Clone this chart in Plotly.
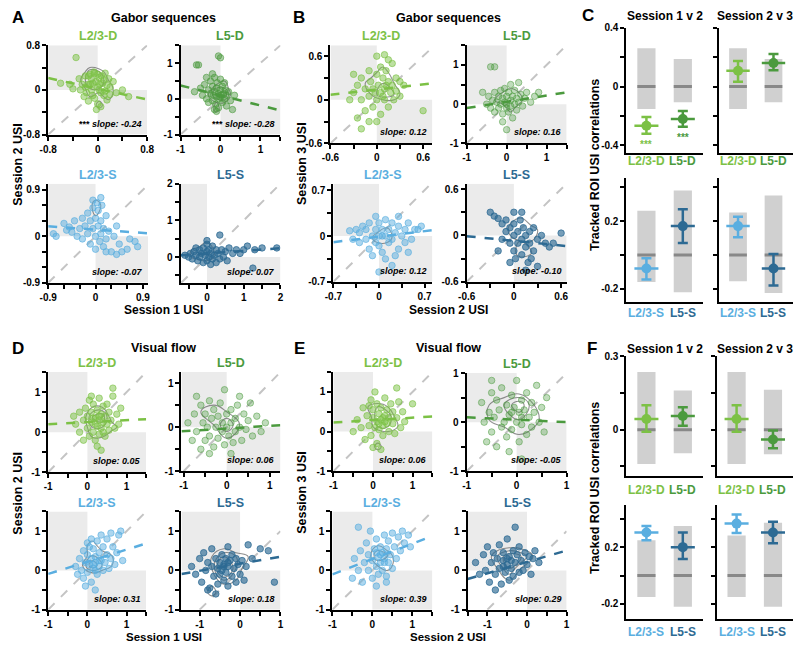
import plotly.graph_objects as go

W, H = 800, 650
FONT = "Liberation Sans"
GREEN_L = "#7cc145"
GREEN_D = "#4b9a3e"
BLUE_L = "#5aaee0"
BLUE_D = "#2d6a93"

# ---------------- scatter data: (USI session a, USI session b) ----------------
GAB_S12_L23D = [(-0.35,0.58),(-0.6,0.12),(-0.45,0.1),(-0.4,0.02),(-0.3,0.2),(-0.28,0.0),(-0.25,0.1),(-0.22,-0.12),(-0.2,0.25),(-0.2,0.05),(-0.18,-0.05),(-0.15,0.25),(-0.15,-0.2),(-0.12,0.1),(-0.12,0.28),(-0.1,0.2),(-0.1,0.0),(-0.08,-0.1),(-0.06,0.32),(-0.05,0.3),(-0.05,-0.15),(-0.03,0.15),(-0.02,-0.35),(0.0,0.05),(0.0,0.28),(0.0,-0.25),(0.02,0.22),(0.03,0.1),(0.05,-0.05),(0.05,-0.3),(0.06,0.25),(0.08,0.12),(0.1,0.18),(0.1,-0.1),(0.12,-0.02),(0.12,0.3),(0.15,0.08),(0.15,-0.18),(0.18,0.2),(0.2,0.05),(0.2,-0.08),(0.25,0.15),(0.3,-0.05),(0.4,0.0),(0.5,-0.12),(-0.08,0.12),(0.02,0.0),(-0.15,0.1)]
GAB_S12_L5D = [(-0.6,0.95),(-0.55,0.95),(-0.05,1.2),(0.0,1.15),(-0.65,0.2),(-0.5,0.3),(-0.45,0.1),(-0.4,0.4),(-0.35,0.0),(-0.3,0.25),(-0.3,-0.1),(-0.25,0.5),(-0.25,0.15),(-0.2,0.35),(-0.2,-0.05),(-0.18,0.1),(-0.15,0.6),(-0.15,0.2),(-0.12,-0.15),(-0.1,0.05),(-0.1,0.3),(-0.08,0.45),(-0.05,0.15),(-0.05,-0.25),(-0.03,0.0),(0.0,0.25),(0.0,0.55),(0.02,0.1),(0.05,-0.1),(0.05,0.35),(0.08,0.15),(0.1,0.0),(0.12,0.25),(0.15,-0.2),(0.15,0.1),(0.2,0.2),(0.25,-0.05),(0.3,-0.3),(-0.2,0.7),(-0.1,-0.35),(0.35,0.1),(-0.35,0.6),(0.1,0.45),(-0.15,-0.3),(0.0,0.05)]
GAB_S12_L23S = [(-0.8,0.05),(-0.75,0.0),(-0.6,0.25),(-0.55,0.12),(-0.5,0.18),(-0.45,0.08),(-0.4,0.3),(-0.35,0.0),(-0.3,0.15),(-0.25,0.35),(-0.25,-0.05),(-0.2,0.2),(-0.15,0.45),(-0.15,0.05),(-0.1,0.3),(-0.1,-0.15),(-0.05,0.55),(-0.05,0.15),(0.0,0.35),(0.0,0.0),(0.0,-0.25),(0.03,0.65),(0.05,0.2),(0.05,0.5),(0.08,-0.1),(0.1,0.3),(0.1,0.05),(0.12,0.6),(0.15,-0.2),(0.15,0.15),(0.2,0.4),(0.2,-0.05),(0.25,0.1),(0.3,-0.3),(0.35,0.0),(0.4,0.2),(0.45,-0.15),(0.5,-0.3),(0.6,-0.25),(0.65,-0.05),(0.75,-0.1),(0.8,-0.2),(0.4,-0.35),(0.2,-0.3),(-0.05,0.7),(0.1,0.75)]
GAB_S12_L5S = [(-0.6,0.05),(-0.5,0.0),(-0.45,0.1),(-0.4,-0.05),(-0.35,0.15),(-0.3,0.05),(-0.25,-0.1),(-0.2,0.2),(-0.2,0.0),(-0.15,0.1),(-0.1,-0.15),(-0.1,0.25),(-0.05,0.05),(0.0,0.15),(0.0,-0.1),(0.0,0.35),(0.05,0.0),(0.05,0.2),(0.1,-0.2),(0.1,0.1),(0.15,0.3),(0.15,-0.05),(0.2,0.05),(0.25,0.2),(0.25,-0.15),(0.3,0.1),(0.35,0.6),(0.35,-0.05),(0.4,0.2),(0.45,0.0),(0.5,0.15),(0.55,-0.1),(0.6,0.25),(0.7,0.1),(0.8,0.2),(0.9,0.1),(1.0,0.2),(1.1,0.3),(1.3,0.2),(1.25,-0.3),(1.5,0.25),(1.9,0.25),(0.0,0.45),(-0.3,0.25)]

GAB_S23_L23D = [(-0.3,0.35),(-0.3,0.1),(-0.25,0.2),(-0.2,-0.4),(-0.2,0.3),(-0.2,0.0),(-0.15,0.15),(-0.15,-0.15),(-0.1,0.4),(-0.1,0.05),(-0.08,0.25),(-0.05,-0.1),(-0.05,0.15),(0.0,0.35),(0.0,0.0),(0.0,0.6),(0.02,0.2),(0.05,0.45),(0.05,0.1),(0.05,-0.2),(0.08,0.3),(0.1,0.62),(0.1,0.0),(0.1,0.15),(0.12,0.4),(0.15,0.25),(0.15,-0.1),(0.18,0.1),(0.2,0.5),(0.2,0.2),(0.22,0.0),(0.25,0.3),(0.25,0.12),(0.3,0.05),(0.3,0.25),(-0.35,0.0),(-0.25,-0.25),(0.6,-0.15),(0.35,0.2),(0.0,-0.3),(0.15,0.55),(-0.1,-0.3),(0.08,0.05),(-0.02,0.1),(0.12,0.2)]
GAB_S23_L5D = [(-0.4,0.95),(-0.3,0.95),(0.0,-0.65),(-0.5,0.0),(-0.45,0.2),(-0.4,-0.1),(-0.35,0.1),(-0.3,0.3),(-0.3,-0.2),(-0.25,0.05),(-0.2,0.2),(-0.2,-0.1),(-0.15,0.35),(-0.15,0.0),(-0.1,0.15),(-0.1,-0.25),(-0.05,0.05),(-0.05,0.4),(0.0,0.2),(0.0,-0.1),(0.0,0.0),(0.05,0.3),(0.05,-0.2),(0.1,0.1),(0.1,0.5),(0.1,-0.05),(0.15,0.2),(0.2,0.0),(0.2,0.35),(0.25,-0.15),(0.25,0.15),(0.3,0.05),(0.35,0.25),(0.4,-0.05),(0.45,0.15),(0.5,0.3),(0.6,0.05),(0.7,0.2),(0.8,0.3),(-0.1,-0.45),(0.15,-0.35),(-0.6,0.3),(0.3,0.55)]
GAB_S23_L23S = [(-0.45,0.08),(-0.4,-0.05),(-0.35,0.1),(-0.3,-0.1),(-0.3,0.05),(-0.25,0.15),(-0.2,-0.05),(-0.2,0.1),(-0.15,-0.2),(-0.15,0.2),(-0.1,0.0),(-0.1,-0.3),(-0.05,0.1),(-0.05,-0.1),(0.0,0.2),(0.0,-0.15),(0.0,0.0),(0.0,-0.55),(0.05,0.1),(0.05,-0.25),(0.1,0.0),(0.1,0.25),(0.15,-0.1),(0.15,0.1),(0.2,-0.45),(0.2,0.2),(0.2,-0.05),(0.25,0.05),(0.3,-0.2),(0.3,0.15),(0.35,0.0),(0.4,-0.1),(0.4,0.1),(0.45,0.2),(0.5,-0.05),(0.55,0.1),(0.6,0.1),(0.65,0.15),(0.3,0.3),(0.45,-0.25),(-0.05,0.3),(0.25,-0.3),(0.1,-0.35),(0.05,0.0)]
GAB_S23_L5S = [(-0.3,0.3),(-0.25,0.25),(-0.2,0.22),(-0.15,0.15),(-0.1,0.2),(-0.15,-0.05),(-0.1,0.05),(-0.05,-0.1),(-0.05,0.1),(0.0,0.0),(0.0,-0.2),(0.0,0.15),(0.02,-0.3),(0.05,0.05),(0.05,-0.1),(0.08,0.2),(0.1,-0.05),(0.1,-0.25),(0.12,0.1),(0.15,-0.15),(0.15,0.0),(0.18,-0.35),(0.2,0.05),(0.2,-0.1),(0.22,-0.3),(0.25,0.1),(0.25,-0.2),(0.3,-0.05),(0.3,-0.4),(0.35,0.0),(0.4,-0.1),(0.45,-0.15),(0.5,-0.1),(0.6,0.03),(0.0,0.3),(-0.05,-0.35),(0.1,0.3),(0.15,-0.45),(-0.2,-0.2)]

VF_S12_L23D = [(-0.3,0.2),(-0.2,0.0),(-0.2,0.5),(-0.1,-0.2),(-0.1,0.3),(-0.05,0.6),(0.0,0.1),(0.0,0.4),(0.05,-0.1),(0.05,0.8),(0.1,0.25),(0.1,0.5),(0.15,0.0),(0.15,0.7),(0.2,0.35),(0.2,-0.2),(0.25,0.15),(0.25,0.55),(0.3,0.3),(0.3,0.85),(0.3,-0.05),(0.35,0.45),(0.35,0.1),(0.4,0.25),(0.4,0.65),(0.45,-0.1),(0.45,0.4),(0.5,0.2),(0.5,0.7),(0.55,0.05),(0.55,0.5),(0.6,0.3),(0.65,0.9),(0.65,1.1),(0.7,0.1),(0.75,0.45),(0.8,0.2),(0.85,0.6),(0.25,-0.35),(0.35,-0.45),(0.1,0.9),(-0.35,0.4),(0.2,0.2),(0.3,0.4),(0.4,0.0),(0.15,0.35)]
VF_S12_L5D = [(-0.9,0.1),(-0.8,-0.3),(-0.75,0.3),(-0.7,-0.1),(-0.6,0.5),(-0.6,-0.5),(-0.55,0.1),(-0.5,-0.3),(-0.5,0.3),(-0.45,0.0),(-0.4,0.6),(-0.4,-0.2),(-0.35,0.2),(-0.3,-0.45),(-0.3,0.4),(-0.25,0.0),(-0.2,-0.25),(-0.2,0.25),(-0.15,0.55),(-0.1,-0.1),(-0.1,0.1),(-0.05,-0.4),(0.0,0.3),(0.0,0.0),(0.05,-0.2),(0.1,0.4),(0.1,0.1),(0.15,-0.35),(0.2,0.2),(0.2,-0.1),(0.25,0.5),(0.3,0.0),(0.35,-0.3),(0.4,0.3),(0.45,-0.05),(0.5,0.15),(0.6,-0.2),(0.7,0.25),(0.8,-0.1),(0.9,0.1),(-0.05,0.85),(0.3,0.7),(-0.4,-0.6),(0.1,-0.6),(-0.7,0.7),(0.55,0.55)]
VF_S12_L23S = [(-0.3,0.1),(-0.25,-0.1),(-0.2,0.3),(-0.15,0.0),(-0.1,0.5),(-0.1,-0.2),(-0.05,0.2),(0.0,0.4),(0.0,-0.05),(0.0,0.7),(0.05,0.15),(0.1,0.3),(0.1,-0.3),(0.1,0.8),(0.15,0.05),(0.15,0.55),(0.2,0.2),(0.2,0.35),(0.25,-0.1),(0.25,0.75),(0.3,0.1),(0.3,0.45),(0.35,0.25),(0.35,0.9),(0.4,0.0),(0.4,0.6),(0.45,0.2),(0.5,0.4),(0.5,0.8),(0.55,0.05),(0.6,0.3),(0.6,0.95),(0.65,0.6),(0.7,0.15),(0.75,0.45),(0.8,0.9),(0.85,1.0),(0.9,0.25),(0.2,-0.5),(-0.05,-0.4),(0.05,0.6),(0.3,0.25),(0.15,0.15),(0.2,0.0)]
VF_S12_L5S = [(-1.2,0.1),(-1.1,-0.1),(-1.0,0.3),(-0.95,-0.3),(-0.9,0.45),(-0.85,0.0),(-0.8,0.2),(-0.75,-0.45),(-0.7,0.55),(-0.7,0.1),(-0.65,-0.15),(-0.6,0.3),(-0.55,-0.35),(-0.55,0.05),(-0.5,0.2),(-0.5,-0.1),(-0.45,0.4),(-0.45,0.0),(-0.4,-0.25),(-0.4,0.15),(-0.35,0.3),(-0.35,-0.05),(-0.3,0.1),(-0.3,-0.4),(-0.25,0.25),(-0.2,-0.15),(-0.2,0.4),(-0.15,0.05),(-0.1,0.3),(-0.1,-0.3),(-0.05,0.15),(0.0,-0.1),(0.05,0.25),(0.1,-0.25),(0.15,0.1),(0.2,0.65),(0.3,0.3),(0.5,0.55),(0.7,0.5),(0.85,-0.3),(-0.6,-0.6),(-0.3,0.6),(-0.8,-0.5),(-0.4,0.1),(-0.3,0.2)]

VF_S23_L23D = [(-0.5,0.0),(-0.4,0.3),(-0.3,0.1),(-0.25,0.6),(-0.2,-0.2),(-0.15,0.4),(-0.1,0.15),(-0.05,0.8),(-0.05,-0.1),(0.0,0.35),(0.0,0.55),(0.05,0.1),(0.05,1.0),(0.1,0.25),(0.1,-0.3),(0.1,0.7),(0.15,0.45),(0.15,0.05),(0.2,0.3),(0.2,0.6),(0.25,0.15),(0.25,-0.1),(0.3,0.4),(0.3,0.85),(0.35,0.2),(0.35,0.55),(0.4,0.0),(0.4,0.35),(0.45,0.7),(0.5,0.2),(0.5,0.5),(0.55,-0.05),(0.6,0.35),(0.6,1.1),(0.65,0.75),(0.7,0.1),(0.75,0.5),(0.8,0.25),(1.0,0.7),(0.2,-0.45),(0.0,-0.4),(-0.1,0.65),(0.25,0.35),(0.15,0.2),(0.3,0.25)]
VF_S23_L5D = [(-0.7,0.4),(-0.65,0.0),(-0.6,-0.4),(-0.55,0.2),(-0.5,0.6),(-0.5,-0.2),(-0.45,0.1),(-0.4,0.45),(-0.4,-0.5),(-0.35,0.25),(-0.3,-0.1),(-0.3,0.7),(-0.25,0.0),(-0.2,0.35),(-0.2,-0.3),(-0.15,0.15),(-0.1,0.55),(-0.1,-0.15),(-0.05,0.3),(0.0,0.0),(0.0,0.85),(0.05,0.2),(0.05,-0.4),(0.1,0.45),(0.1,-0.05),(0.15,0.25),(0.2,0.6),(0.2,-0.25),(0.25,0.1),(0.3,0.4),(0.3,-0.1),(0.35,0.2),(0.4,0.75),(0.45,0.0),(0.5,0.3),(0.55,-0.2),(0.6,0.5),(-0.15,-0.6),(0.1,-0.75),(-0.5,0.85),(0.1,0.1),(-0.1,0.2)]
VF_S23_L23S = [(-0.5,-0.2),(-0.45,0.3),(-0.35,1.1),(-0.35,0.0),(-0.3,0.5),(-0.25,-0.3),(-0.2,0.2),(-0.15,0.7),(-0.1,0.0),(-0.1,0.4),(-0.05,1.0),(0.0,0.25),(0.0,-0.2),(0.05,0.55),(0.1,0.1),(0.1,0.8),(0.15,0.35),(0.15,-0.1),(0.2,0.6),(0.2,0.2),(0.25,0.45),(0.25,0.0),(0.3,0.3),(0.3,0.9),(0.35,-0.15),(0.35,0.55),(0.4,0.2),(0.4,0.75),(0.45,0.4),(0.5,0.05),(0.5,0.95),(0.55,0.6),(0.6,0.3),(0.65,0.85),(0.7,0.5),(0.75,1.0),(0.8,0.7),(0.9,0.9),(0.95,0.6),(0.1,-0.4),(0.35,-0.3),(0.2,0.4),(0.3,0.2),(0.1,0.45)]
VF_S23_L5S = [(-1.3,0.2),(-1.2,-0.1),(-1.1,0.4),(-1.05,0.0),(-1.0,0.6),(-0.95,-0.3),(-0.9,0.2),(-0.85,0.45),(-0.8,-0.1),(-0.75,0.3),(-0.7,0.05),(-0.7,0.65),(-0.65,-0.35),(-0.6,0.25),(-0.6,0.45),(-0.55,-0.05),(-0.5,0.15),(-0.5,0.8),(-0.45,-0.25),(-0.45,0.35),(-0.4,0.05),(-0.35,0.5),(-0.35,-0.15),(-0.3,0.2),(-0.3,1.1),(-0.25,0.4),(-0.2,-0.05),(-0.2,0.6),(-0.15,0.25),(-0.1,0.0),(-0.05,0.45),(0.0,0.15),(0.05,0.35),(0.1,-0.1),(0.15,0.3),(0.2,0.5),(0.3,0.2),(-0.8,-0.5),(-0.6,0.1),(-0.4,0.25),(-0.5,0.3)]

# regression fits (slope, intercept) per group: L2/3-D, L5-D, L2/3-S, L5-S
GAB_S12_SLOPE = [-0.24, -0.28, -0.07, 0.07]
GAB_S12_ICPT = [0.02, 0.095, 0.13, 0.10]
GAB_S12_SIG = ["***", "***", "", ""]
GAB_S23_SLOPE = [0.12, 0.16, 0.12, -0.10]
GAB_S23_ICPT = [0.14, 0.06, -0.01, -0.07]
VF_S12_SLOPE = [0.05, 0.06, 0.31, 0.18]
VF_S12_ICPT = [0.25, -0.03, 0.22, 0.17]
VF_S23_SLOPE = [0.06, -0.05, 0.39, 0.29]
VF_S23_ICPT = [0.29, 0.05, 0.29, 0.215]
NO_SIG = ["", "", "", ""]

GROUPS_D = ["L2/3-D", "L5-D"]
GROUPS_S = ["L2/3-S", "L5-S"]

# ---------------- tracked ROI USI correlations ----------------
# Gabor sequences (C)
C_S12_D = dict(val=[-0.267, -0.22], lo=[-0.32, -0.273], hi=[-0.207, -0.167],
               nlo=[-0.153, -0.107], nhi=[0.26, 0.187], nmed=[0.0, 0.0], sig=["***", "***"])
C_S23_D = dict(val=[0.107, 0.16], lo=[0.033, 0.11], hi=[0.173, 0.22],
               nlo=[-0.153, -0.107], nhi=[0.26, 0.187], nmed=[0.0, 0.0], sig=["", ""])
C_S12_S = dict(val=[-0.08, 0.17], lo=[-0.145, 0.07], hi=[-0.02, 0.27],
               nlo=[-0.16, -0.22], nhi=[0.26, 0.38], nmed=[0.0, 0.0], sig=["", ""])
C_S23_S = dict(val=[0.17, -0.08], lo=[0.105, -0.18], hi=[0.225, 0.005],
               nlo=[-0.155, -0.225], nhi=[0.25, 0.35], nmed=[0.0, 0.0], sig=["", ""])
# Visual flow (F)
F_S12_D = dict(val=[0.044, 0.056], lo=[-0.008, 0.016], hi=[0.1, 0.092],
               nlo=[-0.14, -0.096], nhi=[0.236, 0.16], nmed=[0.0, 0.0], sig=["", ""])
F_S23_D = dict(val=[0.044, -0.04], lo=[-0.008, -0.076], hi=[0.1, -0.003],
               nlo=[-0.14, -0.1], nhi=[0.236, 0.164], nmed=[0.0, 0.0], sig=["", ""])
F_S12_S = dict(val=[0.303, 0.2], lo=[0.248, 0.117], hi=[0.35, 0.303],
               nlo=[-0.152, -0.22], nhi=[0.248, 0.35], nmed=[0.0, 0.0], sig=["", ""])
F_S23_S = dict(val=[0.366, 0.303], lo=[0.3, 0.228], hi=[0.43, 0.38],
               nlo=[-0.152, -0.22], nhi=[0.283, 0.372], nmed=[0.0, 0.0], sig=["", ""])


def rgba(h, a):
    h = h.lstrip("#")
    return "rgba(%d,%d,%d,%.2f)" % (int(h[0:2], 16), int(h[2:4], 16), int(h[4:6], 16), a)


def fmt(v):
    s = "%g" % v
    return "0" if s == "-0" else s


def tick_cfg(vals, labeled):
    return dict(tickmode="array", tickvals=vals,
                ticktext=[fmt(v) if any(abs(v - l) < 1e-9 for l in labeled) else "" for v in vals])


COLORS = [GREEN_L, GREEN_D, BLUE_L, BLUE_D]
TITLES = ["L2/3-D", "L5-D", "L2/3-S", "L5-S"]
TICKFONT = dict(family=FONT, size=10, color="black", weight="bold")

fig = go.Figure()
layout = {}
shapes = []
annots = []
axis_n = [0]


def new_axes(box, xr, yr):
    axis_n[0] += 1
    n = axis_n[0]
    xs = "" if n == 1 else str(n)
    x0, x1, y0, y1 = box
    common = dict(showline=True, linecolor="black", linewidth=2, showgrid=False, zeroline=False,
                  ticks="outside", ticklen=4, tickwidth=2, tickcolor="black",
                  tickfont=TICKFONT, fixedrange=True)
    layout["xaxis" + xs] = dict(domain=[x0 / W, x1 / W], range=xr, anchor="y" + xs, **common)
    layout["yaxis" + xs] = dict(domain=[1 - y1 / H, 1 - y0 / H], range=yr, anchor="x" + xs, **common)
    return "x" + xs, "y" + xs, xs


def text(x, y, s, size=12, color="black", angle=0, xanchor="center", yanchor="middle"):
    annots.append(dict(x=x / W, y=1 - y / H, xref="paper", yref="paper", text=s, showarrow=False,
                       textangle=angle, xanchor=xanchor, yanchor=yanchor,
                       font=dict(family=FONT, size=size, color=color, weight="bold")))


def scatter_panel(pts, slope, icpt, sig, gi, box, xr, yr, xt, xl, yt, yl, alpha=0.5, cbin=0.2):
    xa, ya, xs = new_axes(box, xr, yr)
    layout["xaxis" + xs].update(tick_cfg(xt, xl))
    layout["yaxis" + xs].update(tick_cfg(yt, yl))
    # shaded quadrants
    shapes.append(dict(type="rect", xref=xa, yref=ya, x0=xr[0], x1=0, y0=0, y1=yr[1],
                       fillcolor="#ebebeb", line=dict(width=0), layer="below"))
    shapes.append(dict(type="rect", xref=xa, yref=ya, x0=0, x1=xr[1], y0=yr[0], y1=0,
                       fillcolor="#ebebeb", line=dict(width=0), layer="below"))
    lo = max(xr[0], yr[0]); hi = min(xr[1], yr[1])
    shapes.append(dict(type="line", xref=xa, yref=ya, x0=lo, y0=lo, x1=hi, y1=hi,
                       line=dict(color="#c4c4c4", width=2, dash="dash"), layer="below"))
    c = COLORS[gi]
    px = [p[0] for p in pts]
    py = [p[1] for p in pts]
    fig.add_trace(go.Scatter(x=px, y=py, mode="markers",
                             xaxis=xa, yaxis=ya, showlegend=False, hoverinfo="skip",
                             marker=dict(size=6.5, color=rgba(c, alpha),
                                         line=dict(color=rgba(c, min(1, alpha + 0.3)), width=0.8))))
    # density contours of the same points
    fig.add_trace(go.Histogram2dContour(
        x=px, y=py, xaxis=xa, yaxis=ya, showscale=False, hoverinfo="skip",
        autobinx=False, autobiny=False,
        xbins=dict(start=xr[0], end=xr[1], size=cbin), ybins=dict(start=yr[0], end=yr[1], size=cbin),
        autocontour=False, contours=dict(coloring="none", start=2, end=4, size=1),
        line=dict(width=1.1, smoothing=1.3, color="rgba(95,95,95,0.7)")))
    fig.add_trace(go.Scatter(x=[xr[0], xr[1]], y=[icpt + slope * xr[0], icpt + slope * xr[1]],
                             mode="lines", xaxis=xa, yaxis=ya, showlegend=False, hoverinfo="skip",
                             line=dict(color=c, width=2.5, dash="dash")))
    label = ("%s <i>slope: %.2f</i>" % (sig, slope)) if sig else "<i>slope: %.2f</i>" % slope
    annots.append(dict(x=0.97, y=0.04, xref=xa + " domain", yref=ya + " domain", text=label,
                       showarrow=False, xanchor="right", yanchor="bottom",
                       font=dict(family=FONT, size=9, color="black", weight="bold")))
    text((box[0] + box[1]) / 2, box[2] - 9, TITLES[gi], size=12.5, color=c)


# ---------- scatter panel groups ----------
T08 = [-0.8, -0.4, 0, 0.4, 0.8]
T1 = [-1, -0.5, 0, 0.5, 1, 1.5]
T1b = [-1, -0.5, 0, 0.5, 1]
T09 = [-0.9, -0.6, -0.3, 0, 0.3, 0.6, 0.9]
T2 = [-0.5, 0, 0.5, 1, 1.5, 2]
T06 = [-0.6, -0.3, 0, 0.3, 0.6]
T07 = [-0.7, -0.35, 0, 0.35, 0.7]
L101 = [-1, 0, 1]

# A: Gabor session 1 v 2
scatter_panel(GAB_S12_L23D, GAB_S12_SLOPE[0], GAB_S12_ICPT[0], GAB_S12_SIG[0], 0, (40, 141, 40, 131),
              [-0.8, 0.8], [-0.8, 0.8], T08, [-0.8, 0, 0.8], T08, [-0.8, 0, 0.8], cbin=0.15)
scatter_panel(GAB_S12_L5D, GAB_S12_SLOPE[1], GAB_S12_ICPT[1], GAB_S12_SIG[1], 1, (175, 277, 40, 131),
              [-1, 1.5], [-1, 1.5], T1, L101, T1, L101, alpha=0.45)
scatter_panel(GAB_S12_L23S, GAB_S12_SLOPE[2], GAB_S12_ICPT[2], GAB_S12_SIG[2], 2, (40, 142, 181, 282),
              [-0.9, 1.0], [-0.9, 1.02], T09, [-0.9, 0, 0.9], T09, [-0.9, 0, 0.9])
scatter_panel(GAB_S12_L5S, GAB_S12_SLOPE[3], GAB_S12_ICPT[3], GAB_S12_SIG[3], 3, (175, 277, 181, 282),
              [-0.72, 2.0], [-0.7, 2.0], T2, [0, 1, 2], T2, [0, 1, 2], alpha=0.65)
# B: Gabor session 2 v 3
scatter_panel(GAB_S23_L23D, GAB_S23_SLOPE[0], GAB_S23_ICPT[0], NO_SIG[0], 0, (328, 432, 40, 140),
              [-0.6, 0.72], [-0.6, 0.75], T06, [-0.6, 0, 0.6], T06, [-0.6, 0, 0.6], cbin=0.15)
scatter_panel(GAB_S23_L5D, GAB_S23_SLOPE[1], GAB_S23_ICPT[1], NO_SIG[1], 1, (467, 569, 40, 140),
              [-1, 1.5], [-1, 1.5], T1, L101, T1, L101, alpha=0.35)
scatter_panel(GAB_S23_L23S, GAB_S23_SLOPE[2], GAB_S23_ICPT[2], NO_SIG[2], 2, (331, 432, 181, 281),
              [-0.7, 0.82], [-0.7, 0.8], T07, [-0.7, 0, 0.7], T07, [-0.7, 0, 0.7], cbin=0.15)
scatter_panel(GAB_S23_L5S, GAB_S23_SLOPE[3], GAB_S23_ICPT[3], NO_SIG[3], 3, (467, 569, 181, 281),
              [-0.6, 0.67], [-0.6, 0.67], T06, [-0.6, 0, 0.6], T06, [-0.6, 0, 0.6], alpha=0.65, cbin=0.15)
# D: Visual flow session 1 v 2
scatter_panel(VF_S12_L23D, VF_S12_SLOPE[0], VF_S12_ICPT[0], NO_SIG[0], 0, (40, 140, 373, 475),
              [-1, 1.5], [-1, 1.5], T1, L101, T1, L101, cbin=0.25)
scatter_panel(VF_S12_L5D, VF_S12_SLOPE[1], VF_S12_ICPT[1], NO_SIG[1], 1, (176, 277, 373, 474),
              [-1.05, 1.25], [-1, 1.25], T1b, L101, T1b, L101, alpha=0.35, cbin=0.3)
scatter_panel(VF_S12_L23S, VF_S12_SLOPE[2], VF_S12_ICPT[2], NO_SIG[2], 2, (40, 140, 515, 615),
              [-1, 1.5], [-1, 1.5], T1, L101, T1, L101, cbin=0.25)
scatter_panel(VF_S12_L5S, VF_S12_SLOPE[3], VF_S12_ICPT[3], NO_SIG[3], 3, (176, 277, 515, 615),
              [-1.45, 1.0], [-1, 1.5], T1b, L101, T1, L101, alpha=0.65, cbin=0.3)
# E: Visual flow session 2 v 3
scatter_panel(VF_S23_L23D, VF_S23_SLOPE[0], VF_S23_ICPT[0], NO_SIG[0], 0, (331, 432, 373, 474),
              [-1, 1.5], [-1, 1.5], T1, L101, T1, L101, cbin=0.25)
scatter_panel(VF_S23_L5D, VF_S23_SLOPE[1], VF_S23_ICPT[1], NO_SIG[1], 1, (467, 569, 374, 474),
              [-1, 1], [-1, 1], T1b, L101, T1b, L101, alpha=0.35, cbin=0.3)
scatter_panel(VF_S23_L23S, VF_S23_SLOPE[2], VF_S23_ICPT[2], NO_SIG[2], 2, (330, 432, 515, 615),
              [-1, 1.5], [-1, 1.5], T1, L101, T1, L101, cbin=0.25)
scatter_panel(VF_S23_L5S, VF_S23_SLOPE[3], VF_S23_ICPT[3], NO_SIG[3], 3, (468, 569, 515, 615),
              [-1.5, 1.0], [-1, 1.5], [-1.5] + T1b, L101, T1, L101, alpha=0.65, cbin=0.3)


# ---------- correlation panels ----------
def corr_panel(d, groups, gcols, box, yr, yt, yl, label_y, show_labels=True):
    xa, ya, xs = new_axes(box, [-0.55, 1.55], yr)
    layout["xaxis" + xs].update(dict(ticks="", showticklabels=False, tickvals=[]))
    layout["yaxis" + xs].update(tick_cfg(yt, yl if show_labels else []))
    for i in range(2):
        shapes.append(dict(type="rect", xref=xa, yref=ya, x0=i - 0.25, x1=i + 0.25,
                           y0=d["nlo"][i], y1=d["nhi"][i], fillcolor="#d0d0d0",
                           line=dict(width=0), layer="below"))
        shapes.append(dict(type="line", xref=xa, yref=ya, x0=i - 0.25, x1=i + 0.25,
                           y0=d["nmed"][i], y1=d["nmed"][i], line=dict(color="#888888", width=3),
                           layer="below"))
        c = gcols[i]
        v = d["val"][i]
        fig.add_trace(go.Scatter(
            x=[i], y=[v], mode="markers", xaxis=xa, yaxis=ya, showlegend=False, hoverinfo="skip",
            marker=dict(size=10, color=c, line=dict(width=0)),
            error_y=dict(type="data", symmetric=False, array=[d["hi"][i] - v],
                         arrayminus=[v - d["lo"][i]], color=c, thickness=2.5, width=5),
            error_x=dict(type="constant", value=0.33, color=c, thickness=2.5, width=0)))
        if d["sig"][i]:
            annots.append(dict(x=i, y=d["lo"][i] - 0.02, xref=xa, yref=ya, text=d["sig"][i],
                               showarrow=False, yanchor="top",
                               font=dict(family=FONT, size=10, color=c, weight="bold")))
        annots.append(dict(x=i, y=1 - label_y / H, xref=xa, yref="paper", text=groups[i],
                           showarrow=False, yanchor="middle",
                           font=dict(family=FONT, size=12, color=c, weight="bold")))


YC_TOP = [-0.4, -0.2, 0, 0.2, 0.4]
YC_BOT = [-0.2, 0, 0.2, 0.4]
YF_TOP = [-0.15, 0, 0.15, 0.3]
YF_BOT = [-0.2, 0, 0.2, 0.4]

corr_panel(C_S12_D, GROUPS_D, [GREEN_L, GREEN_D], (630, 708, 22, 150), [-0.453, 0.4], YC_TOP, [-0.4, 0, 0.4], 158)
corr_panel(C_S23_D, GROUPS_D, [GREEN_L, GREEN_D], (724, 800, 22, 150), [-0.453, 0.4], YC_TOP, [], 158, False)
corr_panel(C_S12_S, GROUPS_S, [BLUE_L, BLUE_D], (630, 708, 175, 302), [-0.28, 0.455], YC_BOT, [-0.2, 0.2], 313)
corr_panel(C_S23_S, GROUPS_S, [BLUE_L, BLUE_D], (724, 800, 175, 302), [-0.28, 0.455], YC_BOT, [], 313, False)
corr_panel(F_S12_D, GROUPS_D, [GREEN_L, GREEN_D], (630, 708, 357, 479), [-0.19, 0.3], YF_TOP, [0, 0.3], 493)
corr_panel(F_S23_D, GROUPS_D, [GREEN_L, GREEN_D], (722, 800, 357, 479), [-0.19, 0.3], YF_TOP, [], 493, False)
corr_panel(F_S12_S, GROUPS_S, [BLUE_L, BLUE_D], (630, 708, 508, 625), [-0.31, 0.5], YF_BOT, [-0.2, 0.2], 638)
corr_panel(F_S23_S, GROUPS_S, [BLUE_L, BLUE_D], (722, 800, 508, 625), [-0.31, 0.5], YF_BOT, [], 638, False)

# ---------- headings and axis titles ----------
for letter, x, y in [("A", 9, 12), ("B", 296, 12), ("C", 591, 10), ("D", 9, 349), ("E", 296, 349), ("F", 595, 349)]:
    text(x, y, letter, size=17)
text(158, 12, "Gabor sequences", size=12.5)
text(448, 12, "Gabor sequences", size=12.5)
text(158, 348, "Visual flow", size=12.5)
text(448, 348, "Visual flow", size=12.5)
text(669, 10, "Session 1 v 2", size=12)
text(761, 10, "Session 2 v 3", size=12)
text(669, 349, "Session 1 v 2", size=12)
text(761, 349, "Session 2 v 3", size=12)

text(9, 161, "Session 2 USI", size=12.5, angle=-90)
text(158, 310, "Session 1 USI", size=12)
text(299, 161, "Session 3 USI", size=12.5, angle=-90)
text(448, 310, "Session 2 USI", size=12)
text(9, 496, "Session 2 USI", size=12.5, angle=-90)
text(158, 643, "Session 1 USI", size=11.5)
text(299, 496, "Session 3 USI", size=12.5, angle=-90)
text(448, 643, "Session 2 USI", size=11.5)
text(598, 162, "Tracked ROI USI correlations", size=12.5, angle=-90)
text(598, 491, "Tracked ROI USI correlations", size=12.5, angle=-90)

fig.update_layout(width=W, height=H, margin=dict(l=0, r=0, t=0, b=0),
                  paper_bgcolor="white", plot_bgcolor="rgba(0,0,0,0)",
                  shapes=shapes, annotations=annots, showlegend=False,
                  font=dict(family=FONT), **layout)
fig.write_html("out.html", config={"displayModeBar": False},
               post_script="document.body.style.margin='0px';document.body.style.padding='0px';"
                           "document.body.style.overflow='hidden';")
